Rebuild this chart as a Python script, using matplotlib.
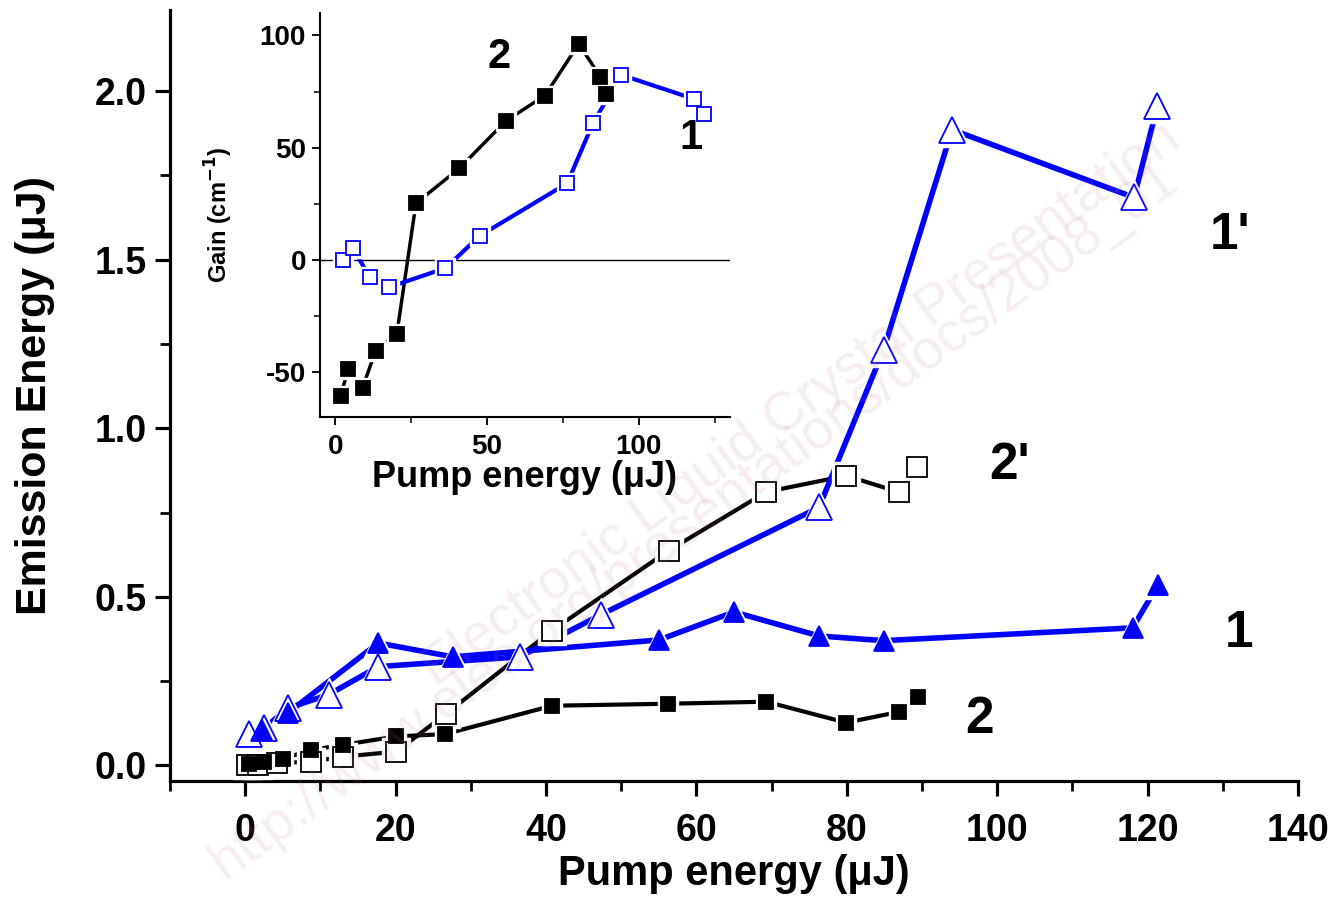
import matplotlib
matplotlib.use('Agg')
from matplotlib import pyplot as plt
from matplotlib.ticker import MultipleLocator

plt.rcParams['font.family'] = ['Liberation Sans', 'DejaVu Sans']
plt.rcParams['font.weight'] = 'bold'
plt.rcParams['axes.unicode_minus'] = False

# main plot: emission energy vs pump energy
x1 = [2.3, 5.7, 17.7, 27.6, 55.0, 65.0, 76.3, 84.9, 118.0, 121.4]
y1 = [0.106, 0.156, 0.363, 0.322, 0.372, 0.455, 0.384, 0.370, 0.408, 0.536]

x1p = [0.5, 2.5, 5.7, 11.1, 17.7, 36.5, 47.3, 76.3, 84.9, 94.0, 118.2, 121.3]
y1p = [0.094, 0.110, 0.170, 0.210, 0.293, 0.322, 0.447, 0.765, 1.233, 1.885, 1.684, 1.955]

x2 = [0.5, 2.5, 5.0, 8.8, 13.0, 20.1, 26.6, 40.8, 56.2, 69.3, 79.9, 87.0, 89.5]
y2 = [0.005, 0.010, 0.020, 0.046, 0.061, 0.086, 0.093, 0.177, 0.183, 0.189, 0.127, 0.159, 0.204]

x2p = [0.2, 1.7, 4.2, 8.8, 13.0, 20.1, 26.7, 40.8, 56.3, 69.3, 79.9, 86.9, 89.3]
y2p = [0.0, 0.0, 0.007, 0.011, 0.026, 0.041, 0.153, 0.400, 0.637, 0.811, 0.859, 0.811, 0.886]

# inset: gain vs pump energy
gx1 = [2.5, 5.8, 11.4, 17.7, 36.3, 47.6, 76.4, 84.9, 94.2, 118.1, 121.3]
gy1 = [0.0, 5.2, -7.7, -12.2, -3.7, 10.7, 34.1, 60.9, 82.4, 71.7, 65.0]

gx2 = [1.8, 4.3, 9.0, 13.3, 20.3, 26.6, 40.9, 56.3, 69.1, 80.2, 87.3, 89.3]
gy2 = [-60.5, -48.7, -57.1, -40.5, -33.1, 25.2, 40.8, 62.0, 73.2, 96.2, 81.6, 73.8]

BLUE = '#0000ff'


def curve(ax, x, y, color, marker, ms, filled, lw):
    ax.plot(x, y, '-', color=color, lw=lw, zorder=2, solid_capstyle='round')
    # white halo gives the little gaps between line and marker
    ax.plot(x, y, ls='none', marker=marker, ms=ms + 5, mfc='white', mec='white', zorder=3)
    ax.plot(x, y, ls='none', marker=marker, ms=ms,
            mfc=color if filled else 'white', mec=color, mew=1.3, zorder=4)


fig = plt.figure(figsize=(13.35, 8.99), dpi=100)

# faint watermark
fig.text(0.6, 0.55, 'Electronic Liquid Crystal Presentation', fontsize=40, fontweight='normal',
         color='#c08080', alpha=0.13, rotation=36, ha='center', va='center', zorder=0)
fig.text(0.52, 0.42, 'http://www.elec.org/presentations/docs/2008_01', fontsize=40, fontweight='normal',
         color='#c08080', alpha=0.13, rotation=36, ha='center', va='center', zorder=0)

ax = fig.add_axes([0.1273, 0.1313, 0.845, 0.8576])
ax.patch.set_alpha(0)

curve(ax, x2p, y2p, 'black', 's', 15, False, 3)
curve(ax, x2, y2, 'black', 's', 10, True, 3)
curve(ax, x1p, y1p, BLUE, '^', 19, False, 4)
curve(ax, x1, y1, BLUE, '^', 15, True, 4)

ax.set_xlim(-10, 140)
ax.set_ylim(-0.046, 2.24)
ax.xaxis.set_major_locator(MultipleLocator(20))
ax.xaxis.set_minor_locator(MultipleLocator(10))
ax.yaxis.set_major_locator(MultipleLocator(0.5))
ax.yaxis.set_minor_locator(MultipleLocator(0.25))
ax.spines['top'].set_visible(False)
ax.spines['right'].set_visible(False)
for s in ['left', 'bottom']:
    ax.spines[s].set_linewidth(2.3)
ax.tick_params(which='major', direction='out', length=11, width=2.3, labelsize=27, pad=6)
ax.tick_params(axis='x', which='major', pad=12)
ax.tick_params(which='minor', direction='out', length=7, width=2)
ax.set_xlabel('Pump energy (\u03bcJ)', fontsize=30, fontweight='bold', labelpad=4)
ax.set_ylabel('Emission Energy (\u03bcJ)', fontsize=31, fontweight='bold', labelpad=28)

ax.text(131, 1.57, "1'", fontsize=37, fontweight='bold', ha='center', va='center')
ax.text(101.7, 0.89, "2'", fontsize=37, fontweight='bold', ha='center', va='center')
ax.text(132.2, 0.39, '1', fontsize=37, fontweight='bold', ha='center', va='center')
ax.text(97.7, 0.135, '2', fontsize=37, fontweight='bold', ha='center', va='center')

# inset
ins = fig.add_axes([0.2397, 0.5362, 0.3071, 0.4494])
ins.patch.set_alpha(0)
ins.axhline(0, color='black', lw=1, zorder=1)
curve(ins, gx2, gy2, 'black', 's', 10, True, 2.5)
curve(ins, gx1, gy1, BLUE, 's', 10, False, 3)
ins.set_xlim(-5, 130)
ins.set_ylim(-70, 110)
ins.xaxis.set_major_locator(MultipleLocator(50))
ins.xaxis.set_minor_locator(MultipleLocator(25))
ins.yaxis.set_major_locator(MultipleLocator(50))
ins.yaxis.set_minor_locator(MultipleLocator(25))
ins.spines['top'].set_visible(False)
ins.spines['right'].set_visible(False)
for s in ['left', 'bottom']:
    ins.spines[s].set_linewidth(1.5)
ins.tick_params(which='major', direction='out', length=6, width=1.3, labelsize=20, pad=4)
ins.tick_params(axis='x', which='major', pad=6)
ins.tick_params(which='minor', direction='out', length=4, width=1.1)
ins.set_xlabel('Pump energy (\u03bcJ)', fontsize=26, fontweight='bold', labelpad=0)
ins.set_ylabel('Gain (cm$^{\\mathbf{-1}}$)', fontsize=17, fontweight='bold', labelpad=18)
ins.text(53.8, 90.5, '2', fontsize=30, fontweight='bold', ha='center', va='center')
ins.text(117.2, 54.3, '1', fontsize=30, fontweight='bold', ha='center', va='center')

fig.savefig('out.png', dpi=100)
